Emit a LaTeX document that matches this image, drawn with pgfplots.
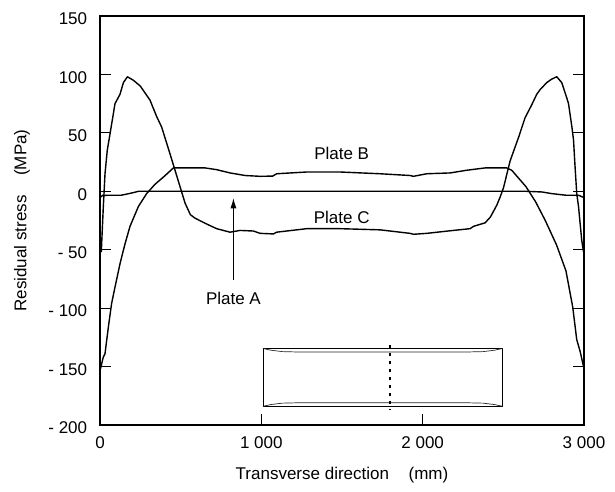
\documentclass[border=0pt]{standalone}
\usepackage{fontspec}
\setmainfont{Liberation Sans}
\usepackage{pgfplots}
\pgfplotsset{compat=1.18}
\usetikzlibrary{arrows.meta}

\pgfplotstableread{
x y
0 -5.5
15 -3.5
60 -3.4
130 -3.4
180 -2
240 0
2640 0
2740 -0.6
2800 -2
2890 -3.4
2966 -3.4
3000 -5.4
}\plateA

\pgfplotstableread{
x y
3 -152
20 -142
31 -139
52 -116
72 -96
93 -82
124 -62
155 -45
186 -30
238 -13
289 -2
341 6
400 13
455 20
517 20
651 20
723 18.5
806 15.7
900 13.5
992 12.8
1070 13
1095 15
1281 16.5
1488 16.5
1736 15
1860 14
1922 13.5
1943 12.8
2025 15
2170 15.7
2273 18
2387 20
2521 20
2552 18
2640 4
2700 -9
2760 -25
2830 -46
2888 -68
2930 -99
2955 -127
2976 -137
2997 -150
}\plateB

\pgfplotstableread{
x y
8 -52
20 -15
31 15
45 35
62 49
93 75
124 83
145 93
170 98
207 95
250 90
310 78
351 64
382 55
434 32
465 18
496 4
527 -10
560 -20
589 -23
661 -28
723 -32
806 -35
868 -33.5
951 -34
992 -36
1075 -36.5
1095 -35
1281 -32
1488 -32
1736 -33
1860 -35
1922 -36
1943 -36.8
2025 -36
2190 -33.5
2294 -32
2315 -30
2387 -27
2420 -22
2459 -12
2480 -5
2501 3
2542 26
2594 46
2635 63
2676 74
2707 83
2728 87
2769 93
2800 96
2831 98
2862 93
2893 80
2904 75
2925 55
2935 44
2945 20
2955 -2
2966 -13
2986 -42
2997 -52
}\plateC

\begin{document}
\fontsize{17}{20}\selectfont
\begin{tikzpicture}
\begin{axis}[
  at={(0,0)}, anchor=south west,
  scale only axis, width=484pt, height=409pt,
  xmin=0, xmax=3000, ymin=-200, ymax=150,
  xtick={0,1000,2000,3000},
  xticklabels={\mbox{0},\mbox{1 000},\mbox{2 000},\mbox{3 000}},
  ytick={-200,-150,-100,-50,0,50,100,150},
  yticklabels={\mbox{- 200},\mbox{- 150},\mbox{- 100},\mbox{- 50},\mbox{0},\mbox{50},\mbox{100},\mbox{150}},
  xtick pos=lower, ytick pos=both,
  tick align=inside, major tick length=11pt,
  axis line style={line width=1.2pt},
  every tick/.style={line width=0.8pt, black},
  tick label style={font=\fontsize{17}{20}\selectfont},
  xticklabel style={yshift=-6pt},
  yticklabel style={xshift=-7pt, yshift=-3pt},
  xlabel={Transverse direction\hspace{1.15em}(mm)},
  ylabel={Residual stress\hspace{1.15em}(MPa)},
  xlabel style={at={(axis description cs:0.5,-0.1222)}, anchor=center, font=\fontsize{17}{20}\selectfont},
  ylabel style={at={(axis description cs:-0.1612,0.5)}, anchor=center, font=\fontsize{17}{20}\selectfont},
  clip=false,
]
\addplot[black, line width=1.4pt, line join=round] table {\plateA};
\addplot[black, line width=1.4pt, line join=round] table {\plateB};
\addplot[black, line width=1.4pt, line join=round] table {\plateC};

% inset plate sketch
\addplot[black, line width=0.7pt] coordinates {(1010,-134.5) (2495,-134.5) (2495,-184) (1010,-184) (1010,-134.5)};
\addplot[black!85, line width=0.7pt] coordinates {(1010,-134.5) (1060,-136) (1130,-137.2) (1250,-137.6) (2250,-137.6) (2375,-137.2) (2445,-136) (2495,-134.5)};
\addplot[black!85, line width=0.7pt] coordinates {(1010,-184) (1060,-182.5) (1130,-181.3) (1250,-180.9) (2250,-180.9) (2375,-181.3) (2445,-182.5) (2495,-184)};
\addplot[black, line width=2.8pt, dash pattern=on 2.8pt off 5.2pt] coordinates {(1798,-131.5) (1798,-187)};

% annotation arrow
\addplot[black, line width=0.8pt, -{Latex[length=10pt,width=6pt]}] coordinates {(827,-76) (827,-6)};

\node at (axis cs:1498,32.7) {Plate B};
\node at (axis cs:1498,-22) {Plate C};
\node at (axis cs:827,-91.7) {Plate A};
\end{axis}
\pgfresetboundingbox
\path[use as bounding box] (-100pt,-67pt) rectangle (515pt,425pt);
\end{tikzpicture}
\end{document}
